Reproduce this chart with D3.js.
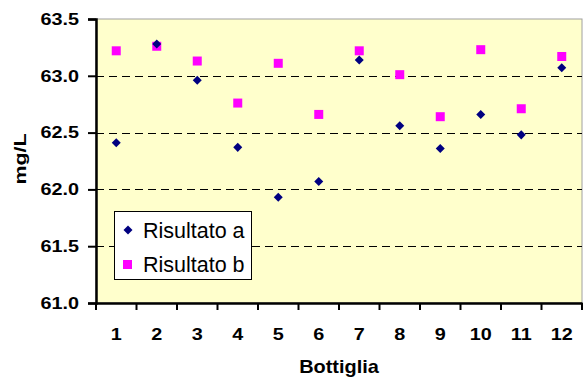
<!DOCTYPE html>
<html>
<head>
<meta charset="utf-8">
<script src="https://cdn.jsdelivr.net/npm/d3@7"></script>
<style>
  body { margin: 0; background: #fff; }
  text { font-family: Arial, "Liberation Sans", sans-serif; }
</style>
</head>
<body>
<script>
// data
const bottles = [1, 2, 3, 4, 5, 6, 7, 8, 9, 10, 11, 12];
const risultatoA = [62.41, 63.28, 62.96, 62.37, 61.93, 62.07, 63.14, 62.56, 62.36, 62.66, 62.48, 63.07];
const risultatoB = [63.22, 63.26, 63.13, 62.76, 63.11, 62.66, 63.22, 63.01, 62.64, 63.23, 62.71, 63.17];
const yTicks = [61.0, 61.5, 62.0, 62.5, 63.0, 63.5];

const width = 583,
  height = 379,
  plotLeft = 96,
  plotRight = 582,
  plotTop = 19,
  plotBottom = 303;

const svg = d3
  .select('body')
  .append('svg')
  .attr('width', width)
  .attr('height', height);

const x = d3.scaleBand().domain(bottles).range([plotLeft, plotRight]);
const y = d3.scaleLinear().domain([61, 63.5]).range([plotBottom, plotTop]);

// plot area
svg
  .append('rect')
  .attr('x', plotLeft)
  .attr('y', plotTop)
  .attr('width', plotRight - plotLeft)
  .attr('height', plotBottom - plotTop)
  .attr('fill', '#FFFFCC')
  .attr('stroke', '#A0A0A0')
  .attr('stroke-width', 1);

// dashed gridlines
svg
  .append('g')
  .selectAll('line')
  .data(yTicks.filter(d => d > 61 && d < 63.5))
  .join('line')
  .attr('x1', plotLeft)
  .attr('x2', plotRight)
  .attr('y1', d => Math.round(y(d)) + 0.5)
  .attr('y2', d => Math.round(y(d)) + 0.5)
  .attr('stroke', '#000')
  .attr('stroke-dasharray', '8,5');

// y axis (labels are a bit wide in the original, hence the scaleX)
const yAxis = svg
  .append('g')
  .attr('transform', `translate(${plotLeft},0)`)
  .call(
    d3.axisLeft(y)
      .tickValues(yTicks)
      .tickFormat(d3.format('.1f'))
      .tickSize(8)
  );
yAxis.select('.domain').attr('stroke-width', 2.5);
yAxis.selectAll('.tick line').attr('stroke-width', 2);
yAxis.selectAll('text')
  .attr('x', 0)
  .attr('transform', 'translate(-17,0) scale(1.2,1)')
  .attr('font-size', 16.5)
  .attr('font-weight', 'bold')
  .attr('fill', '#000');

// x axis: ticks at category boundaries
const xAxis = svg
  .append('g')
  .attr('transform', `translate(0,${plotBottom})`)
  .call(d3.axisBottom(x).tickSize(0));
xAxis.select('.domain').attr('stroke-width', 2.5);
xAxis.selectAll('text')
  .attr('y', 0)
  .attr('dy', null)
  .attr('transform', 'translate(0,37) scale(1.2,1)')
  .attr('font-size', 16.5)
  .attr('font-weight', 'bold')
  .attr('fill', '#000');
xAxis
  .selectAll('line.sep')
  .data(bottles.map(d => x(d)).concat([plotRight]))
  .join('line')
  .attr('class', 'sep')
  .attr('x1', d => d)
  .attr('x2', d => d)
  .attr('y1', 0)
  .attr('y2', 7)
  .attr('stroke', '#000')
  .attr('stroke-width', 2);

// axis titles
svg
  .append('text')
  .attr('transform', 'translate(339,373) scale(1.14,1)')
  .attr('text-anchor', 'middle')
  .attr('font-size', 17.5)
  .attr('font-weight', 'bold')
  .text('Bottiglia');

svg
  .append('text')
  .attr('transform', 'translate(26,159) rotate(-90) scale(1.3,1)')
  .attr('text-anchor', 'middle')
  .attr('font-size', 16.5)
  .attr('font-weight', 'bold')
  .text('mg/L');

const cx = d => x(d) + x.bandwidth() / 2;
const diamond = d3.symbol().type(d3.symbolDiamond2).size(52);

// series b squares
svg
  .append('g')
  .selectAll('rect')
  .data(bottles)
  .join('rect')
  .attr('x', d => cx(d) - 4.5)
  .attr('y', (d, i) => y(risultatoB[i]) - 4.5)
  .attr('width', 9)
  .attr('height', 9)
  .attr('fill', '#FF00FF');

// series a diamonds
svg
  .append('g')
  .selectAll('path')
  .data(bottles)
  .join('path')
  .attr('d', diamond)
  .attr('transform', (d, i) => `translate(${cx(d)},${y(risultatoA[i])})`)
  .attr('fill', '#000080');

// legend
const legend = svg.append('g');
legend
  .append('rect')
  .attr('x', 114.5)
  .attr('y', 211.5)
  .attr('width', 137)
  .attr('height', 68)
  .attr('fill', '#fff')
  .attr('stroke', '#000');
legend
  .append('path')
  .attr('d', diamond)
  .attr('transform', 'translate(128,230)')
  .attr('fill', '#000080');
legend
  .append('rect')
  .attr('x', 123)
  .attr('y', 260)
  .attr('width', 9)
  .attr('height', 9)
  .attr('fill', '#FF00FF');
legend
  .append('text')
  .attr('x', 143)
  .attr('y', 238)
  .attr('font-size', 21.5)
  .text('Risultato a');
legend
  .append('text')
  .attr('x', 143)
  .attr('y', 272)
  .attr('font-size', 21.5)
  .text('Risultato b');
</script>
</body>
</html>
